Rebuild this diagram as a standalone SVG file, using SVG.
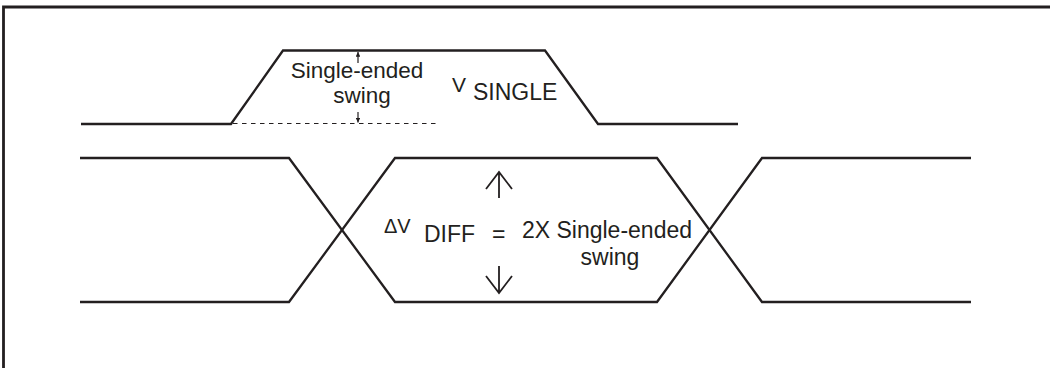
<svg xmlns="http://www.w3.org/2000/svg" width="1050" height="368" viewBox="0 0 1050 368">
  <style>
    .wave { fill: none; stroke: #231f20; stroke-width: 2.3; stroke-linejoin: miter; }
    .thin { fill: none; stroke: #231f20; stroke-width: 1.2; }
    .arr { fill: none; stroke: #231f20; stroke-width: 1.8; }
    .dash { fill: none; stroke: #231f20; stroke-width: 1.2; stroke-dasharray: 4.5 4.5; }
    .t { font-family: "Liberation Sans", Arial, sans-serif; fill: #231f20; }
  </style>
  <defs>
    <marker id="tiny" viewBox="0 0 6 6" refX="6" refY="3" markerWidth="4" markerHeight="4" orient="auto">
      <path d="M0,0 L6,3 L0,6 z" fill="#231f20"/>
    </marker>
  </defs>
  <rect width="1050" height="368" fill="#ffffff"/>
  <g id="frame">
    <path d="M3.5,372 L3.5,7 L1055,7" fill="none" stroke="#231f20" stroke-width="2.8"/>
  </g>
  <g id="connectors">
    <path id="single" class="wave" d="M81,124 L231,124 L283,50.5 L545,50.5 L598,124 L738,124"/>
    <path id="ref-level" class="dash" d="M233,123.5 L436,123.5"/>
    <path class="thin" d="M358,63 L358,52" marker-end="url(#tiny)"/>
    <path class="thin" d="M358,112 L358,122.5" marker-end="url(#tiny)"/>
    <path id="diffA" class="wave" d="M80,158 L289,158 L395,302 L657,302 L762,158 L971,158"/>
    <path id="diffB" class="wave" d="M80,302 L289,302 L395,158 L657,158 L762,302 L971,302"/>
    <path class="arr" d="M499,198 L499,172 M486,189 L499,172 L512,189"/>
    <path class="arr" d="M499,266 L499,293 M486,276 L499,293 L512,276"/>
  </g>
  <g id="single-label">
    <text class="t" x="357" y="78" font-size="22.5" text-anchor="middle">Single-ended</text>
    <text class="t" x="362" y="103" font-size="22.5" text-anchor="middle">swing</text>
  </g>
  <g id="vsingle-label">
    <text class="t" x="452" y="92" font-size="21">V</text>
    <text class="t" x="473" y="100" font-size="23">SINGLE</text>
  </g>
  <g id="vdiff-label">
    <text class="t" x="384" y="233" font-size="20">ΔV</text>
    <text class="t" x="424" y="242" font-size="23">DIFF</text>
    <text class="t" x="492" y="242" font-size="23">=</text>
    <text class="t" x="607" y="238" font-size="23" text-anchor="middle">2X Single-ended</text>
    <text class="t" x="610" y="265" font-size="23" text-anchor="middle">swing</text>
  </g>
</svg>
